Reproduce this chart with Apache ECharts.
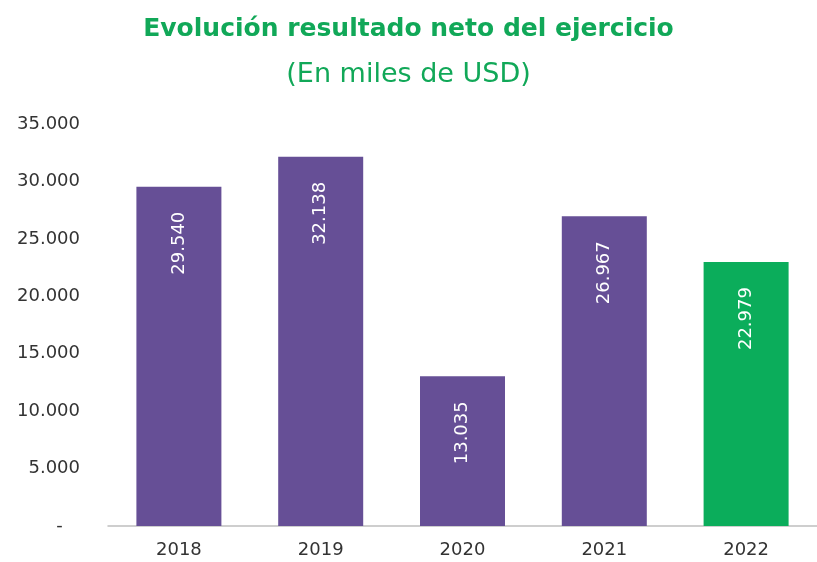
<!DOCTYPE html>
<html>
<head>
<meta charset="utf-8">
<script src="https://cdn.jsdelivr.net/npm/echarts@6/dist/echarts.min.js"></script>
<style>
  html, body { margin: 0; padding: 0; background: #fff; }
  #chart { width: 817px; height: 562px; }
</style>
</head>
<body>
<div id="chart"></div>
<script>
var years = ['2018', '2019', '2020', '2021', '2022'];
var resultado = [29540, 32138, 13035, 26967, 22979];
var barColors = ['#664F96', '#664F96', '#664F96', '#664F96', '#0BAD5B'];

var chartDom = document.getElementById('chart');
var myChart = echarts.init(chartDom);
var option;

function miles(v) {
  // zero is shown as a dash, like the accounting format of the source
  if (v === 0) return '-\u00a0\u00a0\u00a0';
  return String(v).replace(/\B(?=(\d{3})+(?!\d))/g, '.');
}

option = {
  animation: false,
  title: [
    {
      text: 'Evolución resultado neto del ejercicio',
      left: 'center',
      top: 12,
      textStyle: { color: '#11A858', fontSize: 25, fontWeight: 'bold', fontFamily: 'DejaVu Sans' }
    },
    {
      text: '(En miles de USD)',
      left: 'center',
      top: 56,
      textStyle: { color: '#11A858', fontSize: 27, fontWeight: 'normal', fontFamily: 'DejaVu Sans' }
    }
  ],
  grid: {
    left: 108,
    right: -9,
    top: 124,
    bottom: 36
  },
  xAxis: {
    type: 'category',
    data: years,
    axisTick: { show: false },
    axisLine: { lineStyle: { color: '#BFBFBF', width: 1.5 } },
    axisLabel: { color: '#333', fontSize: 18, fontFamily: 'DejaVu Sans', margin: 15 }
  },
  yAxis: {
    type: 'value',
    min: 0,
    max: 35000,
    interval: 5000,
    splitLine: { show: false },
    axisLine: { show: false },
    axisTick: { show: false },
    axisLabel: {
      color: '#333',
      fontSize: 18,
      fontFamily: 'DejaVu Sans',
      margin: 28,
      formatter: miles
    }
  },
  series: [
    {
      type: 'bar',
      barWidth: 85,
      data: resultado.map(function (v, i) {
        return { value: v, itemStyle: { color: barColors[i] } };
      }),
      label: {
        show: true,
        position: 'insideTop',
        distance: 25,
        rotate: 90,
        align: 'right',
        verticalAlign: 'middle',
        color: '#fff',
        fontSize: 18,
        fontFamily: 'DejaVu Sans',
        formatter: function (p) { return miles(p.value); }
      }
    }
  ]
};

option && myChart.setOption(option);
</script>
</body>
</html>
